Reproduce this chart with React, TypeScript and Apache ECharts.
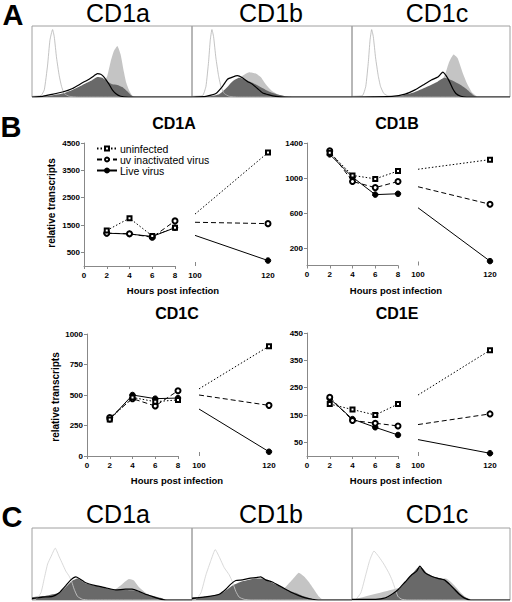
import React, { useEffect, useRef } from "react";
import * as echarts from "echarts";

const FONT = "Liberation Sans, Arial, Helvetica, sans-serif";

// ---------- Panel B data ----------
const hours = [2, 4, 6, 8];
const conditions = ["uninfected", "uv inactivated virus", "Live virus"];

const cd1aUninf = [1300, 1750, 1100, 1400];
const cd1aUv = [1200, 1180, 1050, 1650];
const cd1aLive = [1200, 1170, 1080, 1400];
const cd1aAt100 = [1900, 1600, 1120];
const cd1aAt120 = [4150, 1550, 200];

const cd1bUninf = [1290, 1030, 990, 1080];
const cd1bUv = [1310, 960, 890, 960];
const cd1bLive = [1270, 1010, 810, 820];
const cd1bAt100 = [1100, 900, 660];
const cd1bAt120 = [1210, 700, 50];

const cd1cUninf = [300, 480, 445, 460];
const cd1cUv = [315, 470, 410, 535];
const cd1cLive = [300, 500, 470, 475];
const cd1cAt100 = [550, 500, 385];
const cd1cAt120 = [900, 415, 35];

const cd1eUninf = [190, 170, 150, 190];
const cd1eUv = [215, 130, 120, 110];
const cd1eLive = [210, 135, 105, 77];
const cd1eAt100 = [223, 115, 60];
const cd1eAt120 = [387, 154, 10];

const cd1aTicks = [500, 1500, 2500, 3500, 4500];
const cd1bTicks = [200, 600, 1000, 1400];
const cd1cTicks = [0, 250, 500, 750, 1000];
const cd1eTicks = [50, 150, 250, 350, 450];

// ---------- Histogram data: [channel, % of max] ----------
const aCD1aIso = [[0,1],[27,2],[37,10],[47,45],[54,80],[62,95],[67,85],[74,55],[82,30],[89,15],[97,5],[112,1],[140,0],[482,0]];
const aCD1aLive = [[0,0],[32,1],[52,3],[92,7],[122,12],[152,20],[172,25],[187,30],[197,33],[207,32],[217,28],[232,18],[242,10],[252,5],[267,1],[290,0],[482,0]];
const aCD1aUv = [[0,0],[42,1],[92,5],[122,10],[152,17],[182,24],[197,28],[212,27],[227,22],[242,18],[257,17],[272,14],[287,8],[297,3],[307,0],[482,0]];
const aCD1aUninf = [[0,0],[142,5],[192,15],[217,22],[227,30],[237,50],[247,65],[257,72],[267,60],[277,35],[284,20],[292,10],[302,2],[315,0],[482,0]];

const aCD1bIso = [[0,1],[32,2],[42,15],[50,50],[55,80],[60,95],[65,85],[72,55],[80,30],[87,15],[97,5],[112,1],[140,0],[482,0]];
const aCD1bLive = [[0,0],[42,1],[72,5],[92,15],[107,25],[122,28],[137,30],[152,27],[167,22],[182,18],[197,12],[212,6],[232,3],[252,1],[282,0],[482,0]];
const aCD1bUv = [[0,0],[52,1],[82,4],[102,12],[122,22],[142,27],[162,24],[182,20],[202,15],[222,10],[242,6],[262,3],[282,1],[302,0],[482,0]];
const aCD1bUninf = [[0,0],[72,1],[92,5],[122,18],[152,30],[172,35],[192,33],[207,28],[222,18],[242,8],[262,3],[292,0],[482,0]];

const aCD1cIso = [[0,1],[32,2],[42,15],[50,50],[55,80],[60,95],[65,85],[72,55],[80,30],[87,15],[97,5],[112,1],[140,0],[482,0]];
const aCD1cLive = [[0,0],[122,1],[162,4],[192,10],[217,17],[242,24],[262,28],[277,35],[287,30],[297,22],[307,12],[317,5],[332,1],[350,0],[482,0]];
const aCD1cUv = [[0,0],[142,1],[192,7],[232,15],[262,22],[282,27],[297,25],[312,22],[332,17],[347,12],[362,6],[372,2],[382,0],[482,0]];
const aCD1cUninf = [[0,0],[202,2],[252,10],[282,30],[297,50],[310,60],[322,55],[337,35],[352,18],[367,6],[382,1],[395,0],[482,0]];

const cCD1aIso = [[0,0],[12,1],[27,10],[37,30],[47,50],[57,60],[70,72],[82,60],[92,50],[102,40],[112,33],[120,25],[127,15],[137,5],[152,1],[170,0],[482,0]];
const cCD1aLive = [[0,2],[32,4],[62,5],[82,10],[102,20],[117,28],[132,32],[142,30],[162,24],[192,20],[222,17],[252,14],[282,15],[302,15],[322,12],[342,8],[362,5],[382,2],[402,0],[482,0]];
const cCD1aUv = [[0,4],[42,6],[82,10],[102,18],[122,27],[137,30],[162,23],[192,20],[222,17],[252,14],[282,14],[312,13],[337,9],[362,6],[387,3],[407,0],[482,0]];
const cCD1aUninf = [[0,0],[222,10],[242,12],[272,22],[292,29],[307,27],[322,18],[342,10],[362,5],[380,1],[395,0],[482,0]];

const cCD1bIso = [[0,0],[12,1],[27,10],[42,35],[57,55],[70,70],[82,60],[97,45],[112,35],[122,25],[132,12],[142,4],[157,1],[175,0],[482,0]];
const cCD1bLive = [[0,2],[52,5],[82,8],[102,15],[117,22],[132,27],[152,28],[172,30],[192,31],[207,32],[222,28],[242,25],[262,20],[282,15],[302,10],[322,6],[342,3],[362,1],[380,0],[482,0]];
const cCD1bUv = [[0,4],[52,5],[92,10],[122,20],[152,26],[192,30],[212,30],[242,24],[272,17],[292,13],[312,10],[332,6],[352,3],[372,0],[482,0]];
const cCD1bUninf = [[0,0],[242,8],[262,10],[282,18],[302,28],[322,38],[337,33],[352,25],[367,15],[382,5],[392,1],[400,0],[482,0]];

const cCD1cIso = [[0,0],[12,1],[27,10],[42,35],[54,55],[67,68],[82,60],[97,50],[112,38],[122,28],[132,15],[140,5],[152,1],[170,0],[482,0]];
const cCD1cLive = [[0,1],[72,1],[102,3],[122,8],[142,15],[162,25],[182,35],[197,40],[207,47],[222,38],[242,33],[262,30],[282,28],[297,22],[312,15],[327,8],[342,3],[362,0],[482,0]];
const cCD1cUv = [[0,0],[102,2],[122,7],[142,14],[162,25],[182,35],[202,45],[212,45],[227,38],[252,32],[272,30],[292,25],[312,17],[332,8],[347,3],[362,0],[482,0]];
const cCD1cUninf = [[0,0],[242,28],[262,30],[287,30],[302,25],[317,18],[332,10],[347,4],[362,1],[375,0],[482,0]];

const histTitles = ["CD1a", "CD1b", "CD1c"];

export default function App() {
  const ref = useRef<HTMLDivElement>(null);

  useEffect(() => {
    if (!ref.current) return;
    const chart = echarts.init(ref.current, undefined, { renderer: "svg" });

    const grids: any[] = [];
    const xAxes: any[] = [];
    const yAxes: any[] = [];
    const series: any[] = [];

    // ---- histogram panels ----
    const histPanels = [
      { left: 32, top: 26, width: 160, height: 71, sets: [aCD1aUninf, aCD1aUv, aCD1aIso, aCD1aLive], iso: "#b4b4b4" },
      { left: 192, top: 26, width: 160, height: 71, sets: [aCD1bUninf, aCD1bUv, aCD1bIso, aCD1bLive], iso: "#b4b4b4" },
      { left: 352, top: 26, width: 158, height: 71, sets: [aCD1cUninf, aCD1cUv, aCD1cIso, aCD1cLive], iso: "#b4b4b4" },
      { left: 32, top: 528, width: 160, height: 72, sets: [cCD1aUninf, cCD1aUv, cCD1aIso, cCD1aLive], iso: "#cfcfcf" },
      { left: 192, top: 528, width: 160, height: 72, sets: [cCD1bUninf, cCD1bUv, cCD1bIso, cCD1bLive], iso: "#cfcfcf" },
      { left: 352, top: 528, width: 158, height: 72, sets: [cCD1cUninf, cCD1cUv, cCD1cIso, cCD1cLive], iso: "#cfcfcf" },
    ];
    histPanels.forEach((p) => {
      const gi = grids.length;
      grids.push({ left: p.left, top: p.top, width: p.width, height: p.height, show: true, borderColor: "#a0a0a0", borderWidth: 1, containLabel: false, outerBoundsMode: "none" });
      xAxes.push({ type: "value", gridIndex: gi, min: 0, max: 482, show: false });
      yAxes.push({ type: "value", gridIndex: gi, min: 0, max: 100, show: false });
      const [uninf, uv, iso, live] = p.sets;
      const base = { type: "line", xAxisIndex: gi, yAxisIndex: gi, showSymbol: false, symbol: "none", silent: true, smooth: 0.15 };
      series.push({ ...base, data: uninf, lineStyle: { width: 0, color: "#c4c4c4" }, areaStyle: { color: "#c4c4c4", opacity: 1 } });
      series.push({ ...base, data: uv, lineStyle: { width: 0, color: "#696969" }, areaStyle: { color: "#696969", opacity: 1 } });
      series.push({ ...base, data: iso, lineStyle: { width: 0.8, color: p.iso } });
      series.push({ ...base, data: live, lineStyle: { width: 1.2, color: "#000" } });
    });

    // ---- line chart panels ----
    const linePanels = [
      { lx: 84, rx: 195, lw: 91, rw: 73, top: 143, h: 123, max: 4500, ticks: cd1aTicks, vals: [cd1aUninf, cd1aUv, cd1aLive], s: cd1aAt100, e: cd1aAt120 },
      { lx: 307, rx: 418, lw: 91, rw: 72, top: 143, h: 122.5, max: 1400, ticks: cd1bTicks, vals: [cd1bUninf, cd1bUv, cd1bLive], s: cd1bAt100, e: cd1bAt120 },
      { lx: 87, rx: 199, lw: 91, rw: 70, top: 334, h: 122, max: 1000, ticks: cd1cTicks, vals: [cd1cUninf, cd1cUv, cd1cLive], s: cd1cAt100, e: cd1cAt120 },
      { lx: 307, rx: 418, lw: 91, rw: 72, top: 333, h: 123, max: 450, ticks: cd1eTicks, vals: [cd1eUninf, cd1eUv, cd1eLive], s: cd1eAt100, e: cd1eAt120 },
    ];
    const styles = [
      { line: { type: [1.5, 2], width: 1, color: "#000" }, symbol: "emptyRect", size: 4 },
      { line: { type: [5, 3], width: 1, color: "#000" }, symbol: "emptyCircle", size: 5 },
      { line: { type: "solid", width: 1, color: "#000" }, symbol: "circle", size: 5.5 },
    ];
    const axisLineStyle = { color: "#888", width: 1 };
    const tickLabel = { color: "#000", fontSize: 8, fontWeight: "bold", fontFamily: FONT, formatter: (v: number) => String(v) };
    linePanels.forEach((p) => {
      const gl = grids.length;
      grids.push({ left: p.lx, top: p.top, width: p.lw, height: p.h, containLabel: false, outerBoundsMode: "none" });
      xAxes.push({
        type: "value", gridIndex: gl, min: 0, max: 8, interval: 2,
        axisLine: { show: true, onZero: false, lineStyle: axisLineStyle },
        axisTick: { show: true, length: 3, lineStyle: axisLineStyle },
        axisLabel: { ...tickLabel, margin: 5 },
        splitLine: { show: false },
      });
      yAxes.push({
        type: "value", gridIndex: gl, min: 0, max: p.max,
        axisLine: { show: true, lineStyle: axisLineStyle },
        axisTick: { show: true, length: 3, lineStyle: axisLineStyle, customValues: p.ticks },
        axisLabel: { ...tickLabel, margin: 4, customValues: p.ticks },
        splitLine: { show: false },
      });
      const gr = grids.length;
      grids.push({ left: p.rx, top: p.top, width: p.rw, height: p.h, containLabel: false, outerBoundsMode: "none" });
      xAxes.push({
        type: "value", gridIndex: gr, min: 100, max: 120, interval: 20,
        axisLine: { show: false, onZero: false },
        axisTick: { show: true, length: 4, inside: true, lineStyle: axisLineStyle, customValues: [100] },
        axisLabel: { ...tickLabel, margin: 5, customValues: [100, 120] },
        splitLine: { show: false },
      });
      yAxes.push({ type: "value", gridIndex: gr, min: 0, max: p.max, show: false });

      conditions.forEach((name, ci) => {
        const st = styles[ci];
        const common = {
          type: "line", name, symbol: st.symbol, symbolSize: st.size, showSymbol: true,
          lineStyle: st.line, itemStyle: { color: "#000", borderColor: "#000", borderWidth: 1 },
          z: 10 - ci,
        };
        series.push({
          ...common, xAxisIndex: gl, yAxisIndex: gl,
          data: hours.map((h, i) => [h, p.vals[ci][i]]),
        });
        series.push({
          ...common, xAxisIndex: gr, yAxisIndex: gr,
          data: [{ value: [100, p.s[ci]], symbol: "none" }, { value: [120, p.e[ci]] }],
        });
      });
    });

    const txt = (text: string, x: number, y: number, size: number, bold: boolean, extra: any = {}) => ({
      type: "text", x, y, silent: true, ...extra,
      style: {
        text, fill: "#000", fontSize: size, fontWeight: bold ? "bold" : "normal", fontFamily: FONT,
        textAlign: "center", textVerticalAlign: "middle", align: "center", verticalAlign: "middle",
      },
    });

    const graphic: any[] = [
      txt("A", 13, 15, 29, true),
      txt("B", 11, 127, 29, true),
      txt("C", 12, 517, 29, true),
      txt(histTitles[0], 118, 13, 25, false),
      txt(histTitles[1], 271, 13, 25, false),
      txt(histTitles[2], 437, 13, 25, false),
      txt(histTitles[0], 118, 514, 25, false),
      txt(histTitles[1], 271, 514, 25, false),
      txt(histTitles[2], 437, 514, 25, false),
      txt("CD1A", 174, 123, 16, true),
      txt("CD1B", 397, 123, 16, true),
      txt("CD1C", 177, 313, 16, true),
      txt("CD1E", 397, 313, 16, true),
      txt("Hours post infection", 173, 290, 9.5, true),
      txt("Hours post infection", 396, 290, 9.5, true),
      txt("Hours post infection", 177, 480, 9.5, true),
      txt("Hours post infection", 396, 480, 9.5, true),
      txt("relative transcripts", 51, 203, 10, true, { rotation: Math.PI / 2 }),
      txt("relative transcripts", 55, 397, 10, true, { rotation: Math.PI / 2 }),
    ];

    chart.setOption({
      animation: false,
      backgroundColor: "#fff",
      grid: grids,
      xAxis: xAxes,
      yAxis: yAxes,
      series,
      legend: {
        data: conditions,
        orient: "vertical",
        left: 96,
        top: 143,
        itemWidth: 20,
        itemHeight: 5,
        itemGap: 0,
        padding: 0,
        textStyle: { fontSize: 10.5, fontFamily: FONT, color: "#000", padding: [0, 0, 0, -2] },
        selectedMode: false,
      },
      graphic,
    });

    return () => chart.dispose();
  }, []);

  return (
    <div
      ref={ref}
      style={{ position: "absolute", left: 0, top: 0, width: 512, height: 602, background: "#fff" }}
    />
  );
}
